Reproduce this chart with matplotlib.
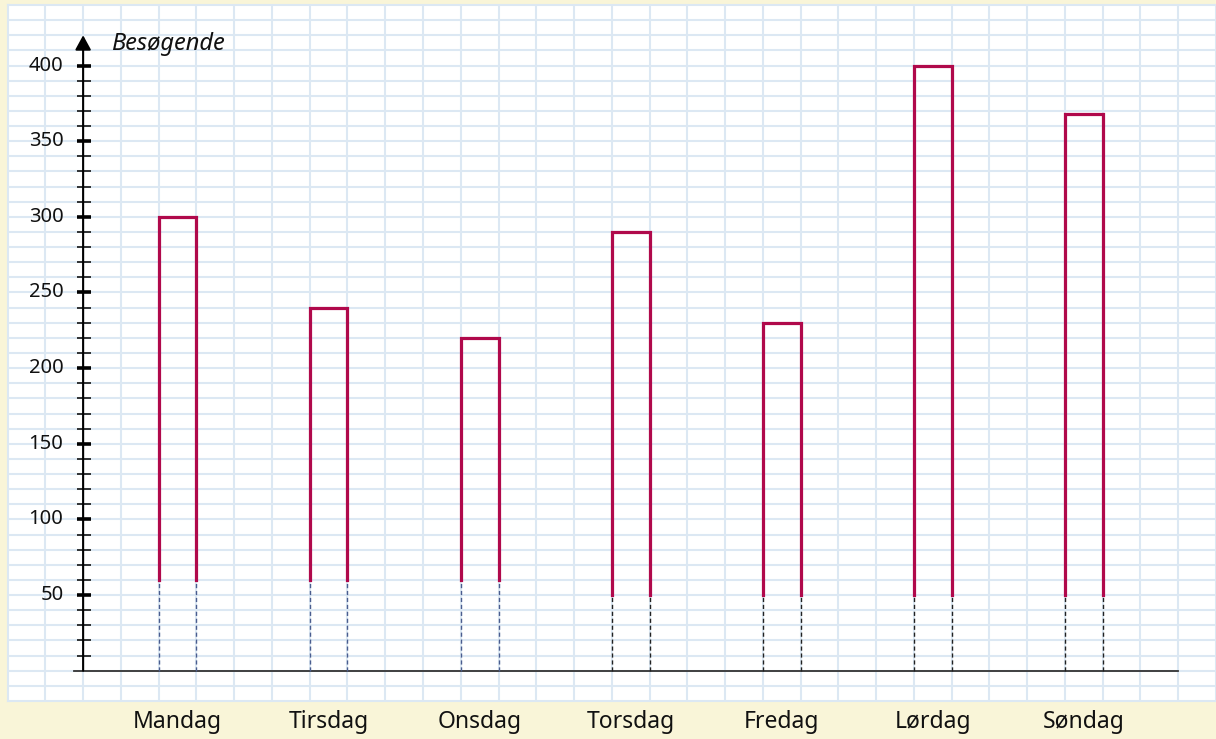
import matplotlib.pyplot as plt
import numpy as np

plt.rcParams['font.family'] = ['Noto Sans', 'DejaVu Sans']

days = ['Mandag', 'Tirsdag', 'Onsdag', 'Torsdag', 'Fredag', 'Lørdag', 'Søndag']
visitors = [300, 240, 220, 290, 230, 400, 368]
# where the solid outline stops, below that the bar is only hinted with dashes
cut = [60, 60, 60, 50, 50, 50, 50]
dash_col = ['#4a5d8f'] * 3 + ['#222222'] * 4
yticks = np.arange(50, 401, 50)

cream = '#f9f5d8'
gridc = '#dce8f3'
barc = '#b0094b'

fig = plt.figure(figsize=(12.16, 7.39), dpi=100, facecolor=cream)
ax = fig.add_axes([7.6 / 1216, 38 / 739, (1216 - 7.6) / 1216, 696 / 739])
ax.set_xlim(-2, 30)
ax.set_ylim(-20, 440)
ax.set_facecolor('white')

# squared paper
for gx in range(-1, 30):
    ax.axvline(gx, color=gridc, lw=1.5, zorder=0)
for gy in range(-10, 440, 10):
    ax.axhline(gy, color=gridc, lw=1.5, zorder=0)
for s in ax.spines.values():
    s.set_color(gridc)
    s.set_linewidth(1.5)
ax.set_xticks([])
ax.set_yticks([])

# axes drawn by hand
ax.plot([-0.25, 29], [0, 0], color='#333333', lw=1.3, zorder=3)
ax.annotate('', xy=(0, 420), xytext=(0, 0),
            arrowprops=dict(arrowstyle='-|>,head_length=0.55,head_width=0.3',
                            mutation_scale=16, color='black', lw=1.5,
                            shrinkA=0, shrinkB=0), zorder=4)
minor = np.arange(10, 401, 10)
ax.hlines(minor, -0.17, 0.22, color='black', lw=1.1, zorder=4)
ax.hlines(yticks, -0.17, 0.22, color='black', lw=2.6, zorder=4)
for v in yticks:
    ax.text(-0.52, v, str(v), ha='right', va='center', fontsize=14.5, color='#111111')
ax.text(0.75, 414, 'Besøgende', ha='left', va='center', fontsize=17,
        style='italic', color='#111111')

# open-bottomed bars, one grid cell wide, every fourth cell
for i, (d, v, c, dc) in enumerate(zip(days, visitors, cut, dash_col)):
    x0 = 2 + 4 * i
    x1 = x0 + 1
    ax.plot([x0, x0, x1, x1], [c, v, v, c], color=barc, lw=2.3,
            solid_joinstyle='miter', zorder=5)
    ax.plot([x0, x0], [0, c], color=dc, lw=1.0, ls=(0, (3, 2)), zorder=4)
    ax.plot([x1, x1], [0, c], color=dc, lw=1.0, ls=(0, (3, 2)), zorder=4)
    ax.text(x0 + 0.5, -34, d, ha='center', va='center', fontsize=16.5,
            color='#111111', clip_on=False)

fig.savefig('out.png', dpi=100, facecolor=cream)
